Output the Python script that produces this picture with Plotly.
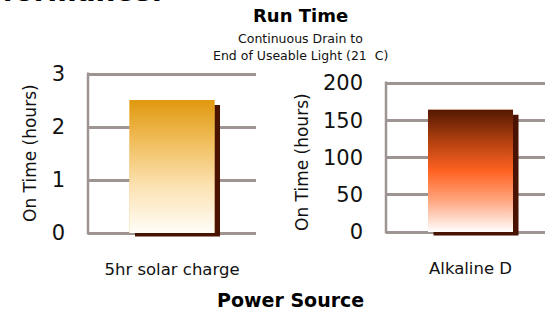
import plotly.graph_objects as go

# ---- data ----
categories_left = ["5hr solar charge"]
values_left = [2.51]
categories_right = ["Alkaline D"]
values_right = [164]
yticks_left = [0, 1, 2, 3]
yticks_right = [0, 50, 100, 150, 200]

W, H = 545, 313
FONT = "DejaVu Sans"
GRID = "#9E9592"
SHADOW = "#4A1200"

grad_left = [[0, "#FFFDF8"], [0.35, "#FCE2B3"], [0.7, "#F0BC58"], [1, "#E0980E"]]
grad_right = [[0, "#FFFFFF"], [0.25, "#FFA882"], [0.5, "#FF6222"], [0.75, "#B0400F"], [1, "#541802"]]

# pixel geometry of the two panels (pixel rows of the first/last tick)
L = dict(x0=88, x1=256, y0=233, y1=74, t0=0, t1=3, xr=[-0.5, 0.5], ppx=168)
R = dict(x0=386, x1=545, y0=232, y1=83, t0=0, t1=200, xr=[-0.5, -0.5 + 159 / 169], ppx=169)
PAD = 5  # px of extra room below/above the end ticks so their gridlines are drawn

fig = go.Figure()


def ppy(geo):
    return (geo["y0"] - geo["y1"]) / (geo["t1"] - geo["t0"])


def add_panel(idx, cats, vals, geo, grad):
    xa = "x" if idx == 1 else "x2"
    ya = "y" if idx == 1 else "y2"
    p = ppy(geo)
    bw = 85 / geo["ppx"]
    dx = 5.5 / geo["ppx"]
    top_off = 5 / p
    bot_off = 3.5 / p
    xs = list(range(len(cats)))
    # shadow
    fig.add_trace(go.Bar(
        x=[x + dx for x in xs], y=[v - top_off + bot_off for v in vals],
        base=[-bot_off] * len(vals), width=bw, marker=dict(color=SHADOW, line=dict(width=0)),
        xaxis=xa, yaxis=ya, cliponaxis=False, hoverinfo="skip", showlegend=False))
    # main bar
    fig.add_trace(go.Bar(
        x=xs, y=vals, width=bw, marker=dict(color=grad[len(grad) // 2][1], line=dict(width=0)),
        xaxis=xa, yaxis=ya, showlegend=False, name=cats[0]))
    # gradient overlay
    for x, v in zip(xs, vals):
        fig.add_trace(go.Scatter(
            x=[x - bw / 2, x + bw / 2, x + bw / 2, x - bw / 2, x - bw / 2],
            y=[0, 0, v, v, 0], mode="lines", fill="toself", line=dict(width=0),
            fillgradient=dict(type="vertical", colorscale=grad, start=0, stop=v),
            xaxis=xa, yaxis=ya, hoverinfo="skip", showlegend=False))


add_panel(1, categories_left, values_left, L, grad_left)
add_panel(2, categories_right, values_right, R, grad_right)


def xdom(g):
    return [g["x0"] / W, g["x1"] / W]


def ydom(g):
    return [(H - g["y0"] - PAD) / H, (H - g["y1"] + PAD) / H]


def yrange(g):
    p = ppy(g)
    return [g["t0"] - PAD / p, g["t1"] + PAD / p]


common_y = dict(showgrid=True, gridcolor=GRID, gridwidth=2.5, zeroline=False,
                showline=False, ticks="", ticklabelstandoff=22, automargin=False,
                tickfont=dict(family=FONT, size=21, color="#111111"))
common_x = dict(showgrid=False, zeroline=False, showline=False, ticks="",
                ticklabelstandoff=19, automargin=False,
                tickfont=dict(family=FONT, size=16.5, color="#111111"))

fig.update_layout(
    width=W, height=H, margin=dict(l=0, r=0, t=0, b=0, pad=0, autoexpand=False),
    paper_bgcolor="white", plot_bgcolor="white", barmode="overlay",
    xaxis=dict(domain=xdom(L), range=L["xr"], tickvals=[0], ticktext=categories_left,
               anchor="y", **common_x),
    yaxis=dict(domain=ydom(L), range=yrange(L), tickvals=yticks_left, anchor="x", **common_y),
    xaxis2=dict(domain=xdom(R), range=R["xr"], tickvals=[0], ticktext=categories_right,
                anchor="y2", **common_x),
    yaxis2=dict(domain=ydom(R), range=yrange(R), tickvals=yticks_right, anchor="x2", **common_y),
)

# vertical axis lines spanning exactly first to last tick
shapes = []
for g, xr, yr in ((L, "x", "y"), (R, "x2", "y2")):
    shapes.append(dict(type="line", xref="paper", yref=yr, x0=g["x0"] / W, x1=g["x0"] / W,
                       y0=g["t0"] - 1.5 / ppy(g), y1=g["t1"] + 1.5 / ppy(g),
                       line=dict(color=GRID, width=2.5), layer="below"))
fig.update_layout(shapes=shapes)

ann = [
    dict(text="<b>Performance:</b>", x=163.5 / W, y=(H - 10) / H, xanchor="right", yanchor="bottom",
         font=dict(family=FONT, size=28, color="#000000")),
    dict(text="<b>Run Time</b>", x=300 / W, y=(H - 15.7) / H, xanchor="center", yanchor="middle",
         font=dict(family=FONT, size=18, color="#000000")),
    dict(text="Continuous Drain to", x=300 / W, y=(H - 39) / H, xanchor="center", yanchor="middle",
         font=dict(family=FONT, size=12.5, color="#111111")),
    dict(text="End of Useable Light (21  C)", x=300 / W, y=(H - 55.7) / H, xanchor="center",
         yanchor="middle", font=dict(family=FONT, size=12.5, color="#111111")),
    dict(text="<b>Power Source</b>", x=290 / W, y=(H - 300) / H, xanchor="center", yanchor="middle",
         font=dict(family=FONT, size=19, color="#000000")),
    dict(text="On Time (hours)", x=30 / W, y=(H - 153) / H, xanchor="center", yanchor="middle",
         textangle=-90, font=dict(family=FONT, size=17, color="#111111")),
    dict(text="On Time (hours)", x=302 / W, y=(H - 162) / H, xanchor="center", yanchor="middle",
         textangle=-90, font=dict(family=FONT, size=17, color="#111111")),
]
for a in ann:
    a.update(xref="paper", yref="paper", showarrow=False)
fig.update_layout(annotations=ann)

fig.write_html("out.html", config={"displayModeBar": False},
               post_script="document.body.style.margin='0';")
